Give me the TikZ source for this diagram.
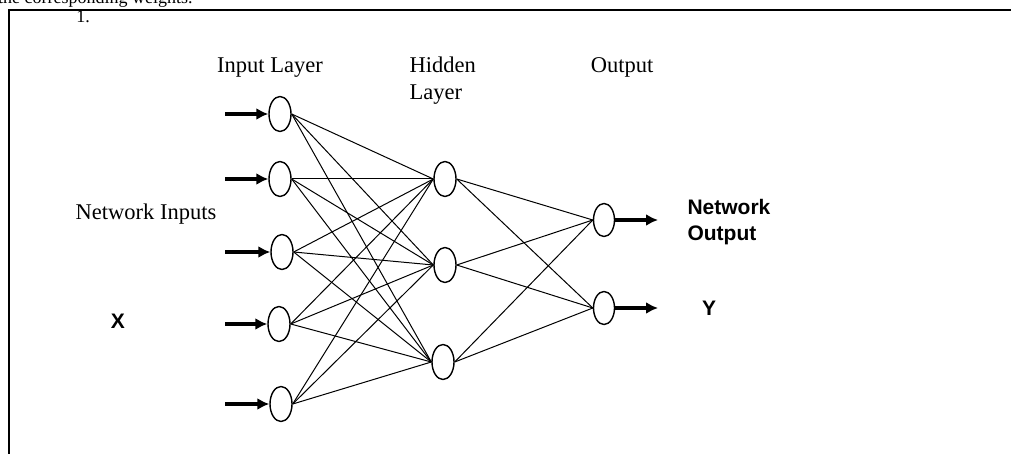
\documentclass[tikz,border=0pt]{standalone}
\usepackage{fontspec}
\setmainfont{Liberation Serif}
\newfontfamily\arialfont{Liberation Sans}
\usetikzlibrary{shapes.geometric,arrows.meta}
\begin{document}
\begin{tikzpicture}[x=1pt,y=-1pt,
  neuron/.style={draw,ellipse,minimum width=22pt,minimum height=35pt,inner sep=0pt,line width=1.4pt},
  conn/.style={line width=1pt},
  ioarrow/.style={line width=3.2pt,-{Latex[length=12pt,width=12pt]}},
  serif/.style={font=\fontsize{22.5}{26}\selectfont},
  boldsans/.style={font=\arialfont\bfseries\fontsize{21}{26}\selectfont}]
\useasboundingbox (0,0) rectangle (1011,454);
\begin{scope}
\clip (0,0) rectangle (1011,454);
\node[anchor=base west,inner sep=0pt,font=\fontsize{18}{20}\selectfont] (top) at (-2,4) {the corresponding weights.};
\end{scope}
% frame
\draw[line width=2pt] (9,460) -- (9,10) -- (1015,10);
\node[font=\fontsize{18}{20}\selectfont] (num) at (83,17) {1.};
% labels
\node[serif] (lin) at (270,68) {Input Layer};
\node[serif,anchor=west] (lh1) at (406,65) {Hidden};
\node[serif,anchor=west] (lh2) at (406,95) {Layer};
\node[serif] (lout) at (622,67) {Output};
\node[serif] (lni) at (146,214) {Network Inputs};
\node[boldsans] (lx) at (118,321) {X};
\node[boldsans,align=left,anchor=west] (lno) at (684,222) {Network\\Output};
\node[boldsans] (ly) at (709,308) {Y};
% neurons
\node[neuron] (i1) at (280,114) {};
\node[neuron] (i2) at (280,179) {};
\node[neuron] (i3) at (282,252) {};
\node[neuron] (i4) at (279,324) {};
\node[neuron] (i5) at (281,404) {};
\node[neuron] (h1) at (445,179) {};
\node[neuron] (h2) at (445,265) {};
\node[neuron] (h3) at (443,362) {};
\node[neuron,minimum width=21pt,minimum height=33pt] (o1) at (604,220) {};
\node[neuron,minimum width=21pt,minimum height=33pt] (o2) at (604,308) {};
% input arrows
\foreach \n/\y in {1/114,2/179,3/252,4/324,5/404}{
  \coordinate (a\n) at (225,\y);
  \draw[ioarrow] (a\n) -- (i\n.west);
}
% output arrows
\coordinate (b1) at (658,220);
\coordinate (b2) at (658,308);
\draw[ioarrow] (o1.east) -- (b1);
\draw[ioarrow] (o2.east) -- (b2);
% connections
\foreach \i in {1,...,5}{
  \foreach \h in {1,2,3}{
    \draw[conn] (i\i.east) -- (h\h.west);
  }
}
\foreach \h in {1,2,3}{
  \foreach \o in {1,2}{
    \draw[conn] (h\h.east) -- (o\o.west);
  }
}
\end{tikzpicture}
\end{document}
